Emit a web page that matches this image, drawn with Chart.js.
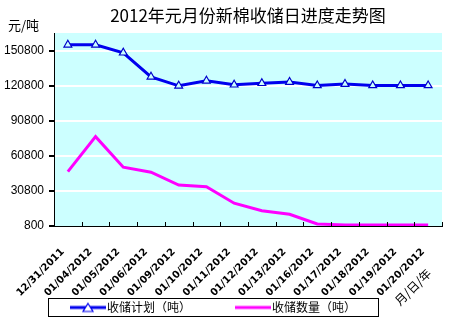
<!DOCTYPE html>
<html>
<head>
<meta charset="utf-8">
<script src="https://cdn.jsdelivr.net/npm/chart.js@4"></script>
<style>
  html, body { margin: 0; padding: 0; background: #fff; }
  #wrap { width: 449px; height: 332px; }
</style>
</head>
<body>
<div id="wrap"><canvas id="myChart"></canvas></div>
<script>
const dates = ['12/31/2011', '01/04/2012', '01/05/2012', '01/06/2012', '01/09/2012', '01/10/2012', '01/11/2012',
    '01/12/2012', '01/13/2012', '01/16/2012', '01/17/2012', '01/18/2012', '01/19/2012', '01/20/2012'];
const planValues = [155900, 155900, 149100, 128500, 120800, 125100, 121700, 123000, 124000, 121100, 122300, 121100, 121100, 121100];
const amountValues = [47300, 77300, 51100, 46800, 35900, 34500, 20300, 13900, 10800, 2500, 1700, 1700, 1700, 1700];
const yTicks = [800, 30800, 60800, 90800, 120800, 150800];
const yMin = 800;
const yMax = 166000;

const cjk = '"Noto Sans CJK SC", sans-serif';

// small canvas used as the legend swatch
function swatch(color, withTriangle) {
    const c = document.createElement('canvas');
    c.width = 36;
    c.height = 12;
    const g = c.getContext('2d');
    g.strokeStyle = color;
    g.lineWidth = 3;
    g.beginPath();
    g.moveTo(0, 6);
    g.lineTo(36, 6);
    g.stroke();
    if (withTriangle) {
        g.fillStyle = '#ffffff';
        g.lineWidth = 1.2;
        g.beginPath();
        g.moveTo(18, 2);
        g.lineTo(23, 10);
        g.lineTo(13, 10);
        g.closePath();
        g.fill();
        g.stroke();
    }
    return c;
}

const plotBackground = {
    id: 'plotBackground',
    beforeDraw(chart) {
        const a = chart.chartArea;
        const ctx = chart.ctx;
        ctx.save();
        ctx.fillStyle = '#ccffff';
        ctx.fillRect(a.left, a.top, a.right - a.left, a.bottom - a.top);
        ctx.restore();
    }
};

const extras = {
    id: 'extras',
    afterDraw(chart) {
        const ctx = chart.ctx;
        const xs = chart.scales.x;
        const a = chart.chartArea;
        ctx.save();
        // short inward tick marks on the category axis
        ctx.strokeStyle = '#000';
        ctx.lineWidth = 1;
        const n = dates.length;
        for (let i = 0; i <= n; i++) {
            const x = Math.round(xs.left + i * (xs.width / n)) + 0.5;
            ctx.beginPath();
            ctx.moveTo(x, a.bottom);
            ctx.lineTo(x, a.bottom - 4);
            ctx.stroke();
        }
        // unit label
        ctx.fillStyle = '#000';
        ctx.font = '13px ' + cjk;
        ctx.textAlign = 'left';
        ctx.textBaseline = 'middle';
        ctx.fillText('元/吨', 8, 25);
        // x axis title
        ctx.translate(429, 271);
        ctx.rotate(-Math.PI / 4);
        ctx.textAlign = 'right';
        ctx.font = '12px ' + cjk;
        ctx.fillText('月/日/年', 0, 0);
        ctx.restore();

        // legend box
        ctx.save();
        const top = 298, h = 18, left = 48, right = 378;
        const starts = [70, 235];
        ctx.strokeStyle = '#000';
        ctx.lineWidth = 1;
        ctx.strokeRect(left + 0.5, top + 0.5, right - left, h);
        const cy = top + h / 2 + 0.5;
        chart.data.datasets.forEach((ds, i) => {
            const sx = starts[i];
            ctx.drawImage(swatch(ds.borderColor, i === 0), sx, cy - 6);
            ctx.fillStyle = '#000';
            ctx.font = '12px ' + cjk;
            ctx.textAlign = 'left';
            ctx.textBaseline = 'middle';
            ctx.fillText(ds.label, sx + 37, cy);
        });
        ctx.restore();
    }
};

new Chart(document.getElementById('myChart'), {
    type: 'line',
    data: {
        labels: dates,
        datasets: [{
            label: '收储计划（吨）',
            data: planValues,
            borderColor: '#0000ee',
            borderWidth: 3,
            pointStyle: 'triangle',
            pointRadius: 4.5,
            pointBorderWidth: 1.2,
            pointBorderColor: '#0000cc',
            pointBackgroundColor: '#ccffff',
            tension: 0
        }, {
            label: '收储数量（吨）',
            data: amountValues,
            borderColor: '#ff00ff',
            borderWidth: 3,
            pointRadius: 0,
            tension: 0
        }]
    },
    options: {
        responsive: true,
        maintainAspectRatio: false,
        animation: false,
        layout: {
            padding: { left: 0, right: 7, top: 0, bottom: 34 }
        },
        plugins: {
            legend: { display: false },
            tooltip: { enabled: false },
            title: {
                display: true,
                fullSize: false,
                text: '2012年元月份新棉收储日进度走势图',
                color: '#000',
                font: { family: cjk, size: 17, weight: 'normal' },
                padding: { top: 5, bottom: 7.6 }
            }
        },
        scales: {
            x: {
                offset: true,
                grid: { display: false, offset: true },
                border: { display: true, color: '#000', width: 1 },
                ticks: {
                    autoSkip: false,
                    maxRotation: 45,
                    minRotation: 45,
                    padding: 12,
                    labelOffset: -5,
                    color: '#000',
                    font: { family: '"DejaVu Sans", sans-serif', size: 10, weight: 'bold' }
                },
                afterFit(scale) { scale.height = 72; }
            },
            y: {
                min: yMin,
                max: yMax,
                afterBuildTicks(scale) {
                    scale.ticks = yTicks.map(v => ({ value: v }));
                },
                grid: {
                    color: ctx => ctx.tick && ctx.tick.value === yMin ? 'rgba(0,0,0,0)' : '#ffffff',
                    lineWidth: 2,
                    tickColor: '#000',
                    tickLength: 5
                },
                border: { display: true, color: '#000', width: 1 },
                ticks: {
                    padding: 5,
                    color: '#000',
                    callback: v => String(v),
                    font: { family: '"Liberation Sans", Arial, sans-serif', size: 12 }
                },
                afterFit(scale) { scale.width = 54; }
            }
        }
    },
    plugins: [plotBackground, extras]
});
</script>
</body>
</html>
